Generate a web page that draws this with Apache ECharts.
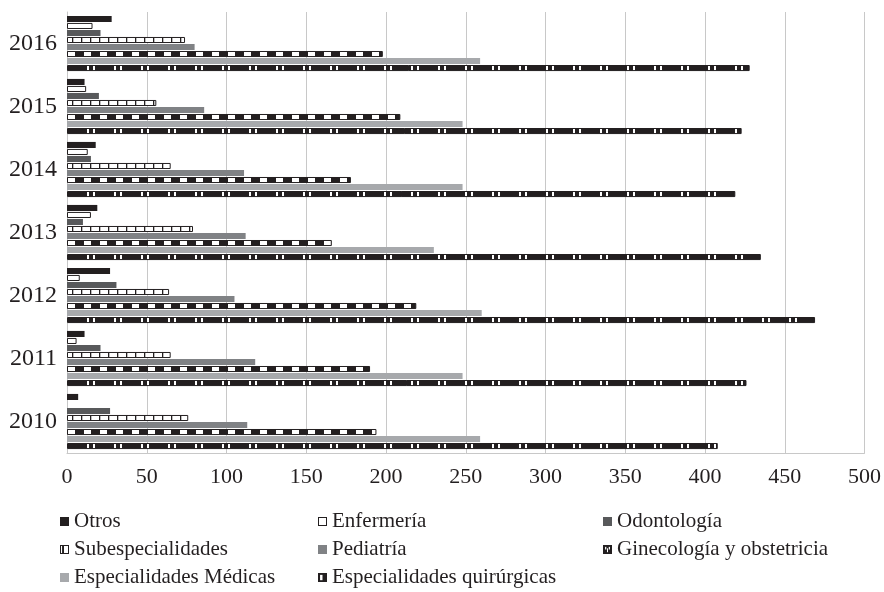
<!DOCTYPE html>
<html>
<head>
<meta charset="utf-8">
<script src="https://cdn.jsdelivr.net/npm/echarts@6/dist/echarts.min.js"></script>
<style>
html,body{margin:0;padding:0;background:#fff;}
#chart{width:884px;height:592px;}
</style>
</head>
<body>
<div id="chart"></div>
<script>
var years = ['2010','2011','2012','2013','2014','2015','2016'];
var otros = [7, 11, 27, 19, 18, 11, 28];
var enfermeria = [0, 6, 8, 15, 13, 12, 16];
var odontologia = [27, 21, 31, 10, 15, 20, 21];
var subespecialidades = [76, 65, 64, 79, 65, 56, 74];
var pediatria = [113, 118, 105, 112, 111, 86, 80];
var ginecologia = [194, 190, 219, 166, 178, 209, 198];
var especialidadesMedicas = [259, 248, 260, 230, 248, 248, 259];
var especialidadesQuirurgicas = [408, 426, 469, 435, 419, 423, 428];
var xTicks = {min: 0, max: 500, interval: 50};

var DARK = '#231f20';
var FONT = 'Liberation Serif';

function makeCanvas(w, h, draw) {
  var c = document.createElement('canvas');
  c.width = w; c.height = h;
  var ctx = c.getContext('2d');
  draw(ctx, w, h);
  return c;
}
var subPattern = makeCanvas(9, 4, function (ctx, w, h) {
  ctx.fillStyle = '#fff'; ctx.fillRect(0, 0, w, h);
  ctx.fillStyle = DARK; ctx.fillRect(0, 0, 1.3, h);
});
var ginePattern = makeCanvas(16, 4, function (ctx, w, h) {
  ctx.fillStyle = DARK; ctx.fillRect(0, 0, w, h);
  ctx.fillStyle = '#fff'; ctx.fillRect(4, 0, 7, h);
});
var quirPattern = makeCanvas(27, 4, function (ctx, w, h) {
  ctx.fillStyle = DARK; ctx.fillRect(0, 0, w, h);
  ctx.fillStyle = '#fff'; ctx.fillRect(6, 0, 2, h); ctx.fillRect(12, 0, 2, h);
});

function iconURL(draw) {
  return 'image://' + makeCanvas(16, 16, draw).toDataURL();
}
var icons = {
  solidDark: iconURL(function (ctx) { ctx.fillStyle = DARK; ctx.fillRect(0, 0, 16, 16); }),
  empty: iconURL(function (ctx) { ctx.fillStyle = '#fff'; ctx.fillRect(0, 0, 16, 16); ctx.strokeStyle = DARK; ctx.lineWidth = 2; ctx.strokeRect(1, 1, 14, 14); }),
  odon: iconURL(function (ctx) { ctx.fillStyle = '#58595b'; ctx.fillRect(0, 0, 16, 16); }),
  sub: iconURL(function (ctx) { ctx.fillStyle = '#fff'; ctx.fillRect(0, 0, 16, 16); ctx.strokeStyle = DARK; ctx.lineWidth = 2; ctx.strokeRect(1, 1, 14, 14); ctx.fillStyle = DARK; ctx.fillRect(4, 0, 3, 16); }),
  ped: iconURL(function (ctx) { ctx.fillStyle = '#808285'; ctx.fillRect(0, 0, 16, 16); }),
  gine: iconURL(function (ctx) { ctx.fillStyle = DARK; ctx.fillRect(0, 0, 16, 16); ctx.fillStyle = '#fff'; ctx.fillRect(4, 3, 2, 5); ctx.fillRect(10, 3, 2, 5); ctx.fillRect(7, 6, 2, 7); }),
  med: iconURL(function (ctx) { ctx.fillStyle = '#a7a9ac'; ctx.fillRect(0, 0, 16, 16); }),
  quir: iconURL(function (ctx) { ctx.fillStyle = DARK; ctx.fillRect(0, 0, 16, 16); ctx.fillStyle = '#fff'; ctx.fillRect(4, 3, 4, 10); })
};

var seriesDefs = [
  {name: 'Otros', data: otros, color: DARK, icon: icons.solidDark},
  {name: 'Enfermería', data: enfermeria, color: '#ffffff', border: DARK, icon: icons.empty},
  {name: 'Odontología', data: odontologia, color: '#58595b', icon: icons.odon},
  {name: 'Subespecialidades', data: subespecialidades, color: {image: subPattern, repeat: 'repeat'}, border: DARK, icon: icons.sub},
  {name: 'Pediatría', data: pediatria, color: '#808285', icon: icons.ped},
  {name: 'Ginecología y obstetricia', data: ginecologia, color: {image: ginePattern, repeat: 'repeat'}, border: DARK, icon: icons.gine},
  {name: 'Especialidades Médicas', data: especialidadesMedicas, color: '#a7a9ac', icon: icons.med},
  {name: 'Especialidades quirúrgicas', data: especialidadesQuirurgicas, color: {image: quirPattern, repeat: 'repeat'}, border: DARK, icon: icons.quir}
];
var byName = {};
seriesDefs.forEach(function (s) { byName[s.name] = s; });

var series = seriesDefs.map(function (s) {
  return {
    name: s.name,
    type: 'bar',
    data: s.data.map(function (v) {
      return v === 0 ? {value: 0, itemStyle: {borderWidth: 0, opacity: 0}} : v;
    }),
    barGap: '16%',
    barCategoryGap: '12.5%',
    itemStyle: {
      color: s.color,
      borderColor: s.border || s.color,
      borderWidth: s.border ? 1 : 0
    },
    emphasis: {disabled: true},
    animation: false
  };
});

var legendLayout = [
  ['Otros', 0, 0], ['Enfermería', 1, 0], ['Odontología', 2, 0],
  ['Subespecialidades', 0, 1], ['Pediatría', 1, 1], ['Ginecología y obstetricia', 2, 1],
  ['Especialidades Médicas', 0, 2], ['Especialidades quirúrgicas', 1, 2]
];
var colLeft = [60, 318, 603];
var legendText = {fontFamily: FONT, fontSize: 21, color: DARK};
var legends = legendLayout.map(function (it) {
  return {
    left: colLeft[it[1]],
    top: 511 + it[2] * 28,
    padding: 0,
    itemWidth: 9,
    itemHeight: 9,
    selectedMode: false,
    formatter: '{t|{name}}',
    textStyle: {fontFamily: FONT, fontSize: 21, color: DARK, rich: {t: legendText}},
    data: [{name: it[0], icon: byName[it[0]].icon}]
  };
});

var chart = echarts.init(document.getElementById('chart'), null, {renderer: 'canvas'});
chart.setOption({
  backgroundColor: '#ffffff',
  animation: false,
  textStyle: {fontFamily: FONT},
  grid: {left: 67, right: 16, top: 12, bottom: 139, containLabel: false},
  xAxis: {
    type: 'value',
    min: xTicks.min, max: xTicks.max, interval: xTicks.interval,
    axisLine: {show: true, lineStyle: {color: '#c8c8c8', width: 1}},
    axisTick: {show: false},
    splitLine: {show: true, lineStyle: {color: '#c8c8c8', width: 1}},
    axisLabel: {fontFamily: FONT, fontSize: 22, color: DARK, margin: 13}
  },
  yAxis: {
    type: 'category',
    data: years,
    axisLine: {show: true, lineStyle: {color: '#c8c8c8', width: 1}},
    axisTick: {show: false},
    axisLabel: {fontFamily: FONT, fontSize: 24, color: DARK, margin: 10}
  },
  legend: legends,
  series: series
});
</script>
</body>
</html>
